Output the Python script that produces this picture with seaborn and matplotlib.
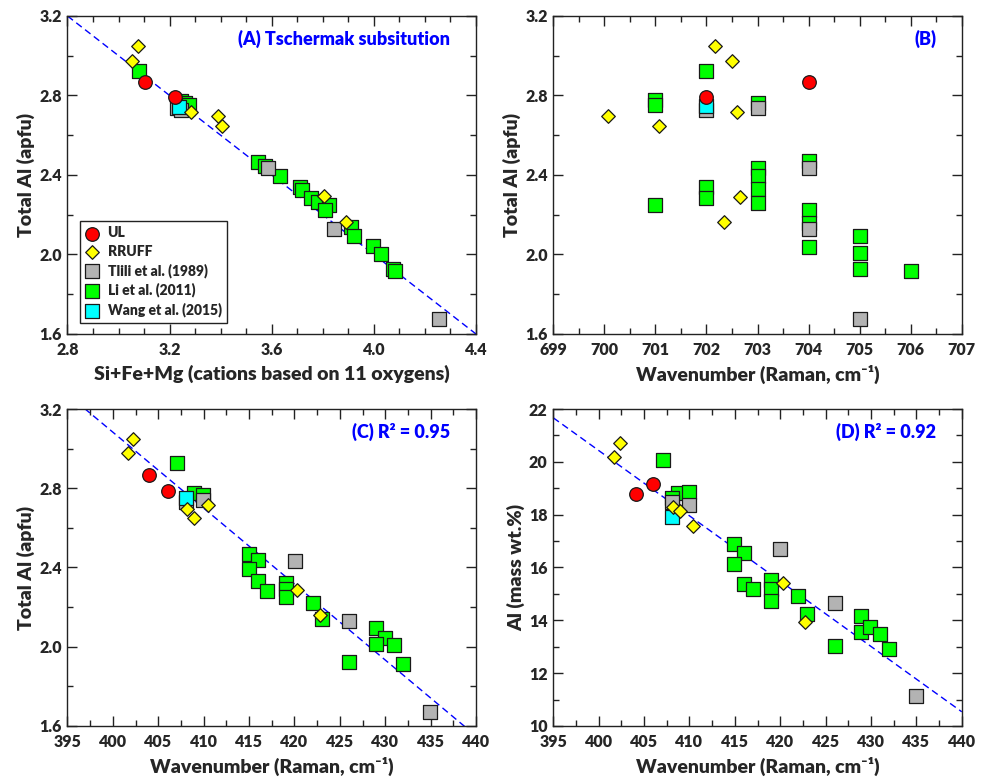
import numpy as np
import matplotlib.pyplot as plt
import seaborn as sns
from matplotlib.ticker import MultipleLocator, FormatStrFormatter

# --- data ---
# (A) Si+Fe+Mg vs total Al
ul_a_x = [3.104, 3.222]
ul_a_y = [2.867, 2.791]
rruff_a_x = [3.077, 3.053, 3.283, 3.390, 3.404, 3.803, 3.890]
rruff_a_y = [3.049, 2.974, 2.718, 2.697, 2.649, 2.292, 2.165]
tlili_a_x = [3.230, 3.245, 3.587, 3.842, 4.257]
tlili_a_y = [2.735, 2.728, 2.434, 2.128, 1.676]
li_a_x = [3.079, 3.243, 3.262, 3.274, 3.547, 3.574, 3.632, 3.711, 3.718, 3.753,
          3.783, 3.824, 3.809, 3.910, 3.923, 3.995, 4.027, 4.074, 4.083]
li_a_y = [2.924, 2.770, 2.760, 2.753, 2.465, 2.444, 2.393, 2.339, 2.326, 2.284,
          2.262, 2.250, 2.222, 2.136, 2.091, 2.041, 2.004, 1.927, 1.918]
wang_a_x = [3.235]
wang_a_y = [2.744]

# (B) Raman band ~700 vs total Al
ul_b_x = [702.0, 704.0]
ul_b_y = [2.790, 2.867]
rruff_b_x = [700.07, 701.07, 702.17, 702.50, 702.60, 702.66, 702.35]
rruff_b_y = [2.697, 2.649, 3.051, 2.974, 2.718, 2.290, 2.163]
tlili_b_x = [702, 703, 704, 704, 705]
tlili_b_y = [2.725, 2.738, 2.433, 2.128, 1.676]
li_b_x = [701, 701, 701, 702, 702, 702, 703, 703, 703, 703, 703,
          704, 704, 704, 704, 705, 705, 705, 706]
li_b_y = [2.778, 2.750, 2.250, 2.924, 2.339, 2.282, 2.761, 2.434, 2.393, 2.329, 2.259,
          2.468, 2.222, 2.160, 2.039, 2.091, 2.006, 1.925, 1.915]
wang_b_x = [702]
wang_b_y = [2.747]

# (C) Raman band ~400 vs total Al
ul_c_x = [404.03, 406.05]
ul_c_y = [2.867, 2.788]
rruff_c_x = [402.27, 401.68, 408.14, 408.95, 410.49, 420.26, 422.79]
rruff_c_y = [3.050, 2.978, 2.695, 2.650, 2.717, 2.286, 2.160]
tlili_c_x = [408.07, 409.98, 420.04, 426.06, 434.94]
tlili_c_y = [2.732, 2.741, 2.433, 2.130, 1.672]
li_c_x = [407.1, 408.95, 409.98, 415.0, 416.0, 415.0, 416.0, 417.03, 419.05, 419.05,
          419.05, 422.0, 423.05, 426.06, 428.96, 429.98, 428.96, 430.98, 431.97]
li_c_y = [2.926, 2.778, 2.766, 2.466, 2.438, 2.392, 2.334, 2.281, 2.320, 2.290,
          2.253, 2.219, 2.142, 1.925, 2.096, 2.043, 2.014, 2.007, 1.913]
wang_c_x = [408.07]
wang_c_y = [2.749]

# (D) Raman band ~400 vs Al mass %
ul_d_x = [404.06, 406.04]
ul_d_y = [18.77, 19.16]
rruff_d_x = [402.30, 401.67, 408.20, 409.00, 410.44, 420.27, 422.72]
rruff_d_y = [20.73, 20.20, 18.30, 18.15, 17.58, 15.40, 13.95]
tlili_d_x = [408.09, 409.96, 420.0, 426.02, 434.97]
tlili_d_y = [18.49, 18.37, 16.69, 14.64, 11.14]
li_d_x = [407.06, 408.75, 409.96, 408.09, 414.95, 415.97, 414.95, 415.97, 417.0, 419.0,
          419.0, 419.0, 422.0, 423.0, 426.02, 428.92, 428.92, 429.9, 430.94, 431.93]
li_d_y = [20.07, 18.83, 18.87, 18.62, 16.89, 16.54, 16.12, 15.37, 15.19, 15.53,
          15.19, 14.73, 14.93, 14.24, 13.04, 14.18, 13.55, 13.76, 13.50, 12.91]
wang_d_x = [408.09]
wang_d_y = [17.92]

# fitted lines (slope, intercept)
fit_a = (-1.0, 6.0)
fit_c = (-0.03833, 18.415)
fit_d = (-0.2473, 119.35)

legend_order = ['UL', 'RRUFF', 'Tlili et al. (1989)', 'Li et al. (2011)', 'Wang et al. (2015)']

# --- styl ---
sns.set_theme(style='ticks')
plt.rcParams['font.family'] = ['Lato', 'DejaVu Sans']
plt.rcParams['font.weight'] = 'heavy'
plt.rcParams['axes.labelweight'] = 'heavy'
plt.rcParams['axes.labelsize'] = 14
plt.rcParams['xtick.labelsize'] = 11.5
plt.rcParams['ytick.labelsize'] = 11.5

# marker, size, colour, zorder
styles = {
    'UL': ('o', 96, '#ff0000', 6),
    'RRUFF': ('D', 48, '#ffff00', 5),
    'Tlili et al. (1989)': ('s', 100, '#b3b3b3', 3),
    'Li et al. (2011)': ('s', 100, '#00ff00', 2),
    'Wang et al. (2015)': ('s', 100, '#00ffff', 4),
}


def draw_panel(ax, series, fit, xlim, ylim, xstep, ystep, xfmt, yfmt, xlabel, ylabel, tag):
    for lab, (xs, ys) in series.items():
        m, s, c, z = styles[lab]
        sns.scatterplot(x=xs, y=ys, marker=m, s=s, color=c, edgecolor='#1a1a1a',
                        linewidth=0.9, ax=ax, zorder=z, label=lab, legend=False)
    if fit is not None:
        xs = np.array(xlim)
        sns.lineplot(x=xs, y=fit[0] * xs + fit[1], ax=ax, color='#0000ff', lw=1.0,
                     linestyle=(0, (5, 3)), zorder=1, legend=False)
    if ax.get_legend() is not None:
        ax.get_legend().remove()
    ax.set_xlim(xlim)
    ax.set_ylim(ylim)
    ax.xaxis.set_major_locator(MultipleLocator(xstep[0]))
    ax.xaxis.set_minor_locator(MultipleLocator(xstep[1]))
    ax.yaxis.set_major_locator(MultipleLocator(ystep[0]))
    ax.yaxis.set_minor_locator(MultipleLocator(ystep[1]))
    ax.xaxis.set_major_formatter(FormatStrFormatter(xfmt))
    ax.yaxis.set_major_formatter(FormatStrFormatter(yfmt))
    ax.tick_params(which='both', direction='in', top=True, right=True, width=1.0, color='#222222')
    ax.tick_params(which='major', length=7)
    ax.tick_params(which='minor', length=4)
    ax.tick_params(axis='x', pad=6)
    ax.tick_params(axis='y', pad=4)
    for sp in ax.spines.values():
        sp.set_linewidth(1.0)
        sp.set_color('#222222')
    ax.set_xlabel(xlabel, labelpad=5)
    ax.set_ylabel(ylabel, labelpad=3)
    ax.text(0.937, 0.928, tag, transform=ax.transAxes, ha='right', va='center',
            color='#0000ff', fontsize=13, fontweight='heavy')


fig = plt.figure(figsize=(9.81, 7.84), dpi=100)
ax_a = fig.add_axes([0.0688, 0.574, 0.4164, 0.4056])
ax_b = fig.add_axes([0.5640, 0.574, 0.4164, 0.4056])
ax_c = fig.add_axes([0.0688, 0.074, 0.4164, 0.4043])
ax_d = fig.add_axes([0.5640, 0.074, 0.4164, 0.4043])

wn_label = 'Wavenumber (Raman, cm\u207b\u00b9)'

draw_panel(ax_a, {'Li et al. (2011)': (li_a_x, li_a_y),
                  'Tlili et al. (1989)': (tlili_a_x, tlili_a_y),
                  'Wang et al. (2015)': (wang_a_x, wang_a_y),
                  'RRUFF': (rruff_a_x, rruff_a_y),
                  'UL': (ul_a_x, ul_a_y)},
           fit_a, (2.8, 4.4), (1.6, 3.2), (0.4, 0.1), (0.4, 0.2), '%.1f', '%.1f',
           'Si+Fe+Mg (cations based on 11 oxygens)', 'Total Al (apfu)',
           '(A) Tschermak subsitution')

draw_panel(ax_b, {'Li et al. (2011)': (li_b_x, li_b_y),
                  'Tlili et al. (1989)': (tlili_b_x, tlili_b_y),
                  'Wang et al. (2015)': (wang_b_x, wang_b_y),
                  'RRUFF': (rruff_b_x, rruff_b_y),
                  'UL': (ul_b_x, ul_b_y)},
           None, (699, 707), (1.6, 3.2), (1, 0.5), (0.4, 0.2), '%d', '%.1f',
           wn_label, 'Total Al (apfu)', '(B)')

draw_panel(ax_c, {'Li et al. (2011)': (li_c_x, li_c_y),
                  'Tlili et al. (1989)': (tlili_c_x, tlili_c_y),
                  'Wang et al. (2015)': (wang_c_x, wang_c_y),
                  'RRUFF': (rruff_c_x, rruff_c_y),
                  'UL': (ul_c_x, ul_c_y)},
           fit_c, (395, 440), (1.6, 3.2), (5, 2.5), (0.4, 0.2), '%d', '%.1f',
           wn_label, 'Total Al (apfu)', '(C) R\u00b2 = 0.95')

draw_panel(ax_d, {'Li et al. (2011)': (li_d_x, li_d_y),
                  'Tlili et al. (1989)': (tlili_d_x, tlili_d_y),
                  'Wang et al. (2015)': (wang_d_x, wang_d_y),
                  'RRUFF': (rruff_d_x, rruff_d_y),
                  'UL': (ul_d_x, ul_d_y)},
           fit_d, (395, 440), (10, 22), (5, 2.5), (2, 1), '%d', '%d',
           wn_label, 'Al (mass wt.%)', '(D) R\u00b2 = 0.92')

# legenda jen v panelu A
handles, labs = ax_a.get_legend_handles_labels()
hmap = dict(zip(labs, handles))
leg = ax_a.legend([hmap[l] for l in legend_order], legend_order, loc='lower left',
                  bbox_to_anchor=(0.03, 0.035), borderaxespad=0, fontsize=10,
                  frameon=True, fancybox=False, edgecolor='#222222', framealpha=1,
                  handlelength=1.0, handletextpad=0.6, labelspacing=0.38, borderpad=0.4)
leg.get_frame().set_linewidth(1.0)

fig.savefig('out.png', dpi=100, facecolor='white')
